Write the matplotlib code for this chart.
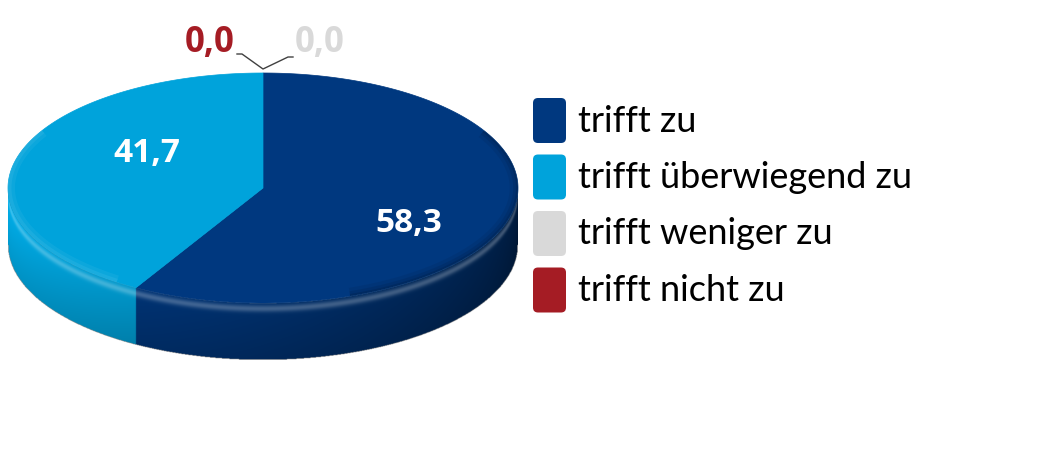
import numpy as np
import matplotlib.pyplot as plt
from matplotlib.patches import Polygon, FancyBboxPatch

# data
categories = ["trifft zu", "trifft überwiegend zu", "trifft weniger zu", "trifft nicht zu"]
values = [58.3, 41.7, 0.0, 0.0]
colors = ["#00387f", "#00a3db", "#d9d9d9", "#a51c24"]
value_labels = ["58,3", "41,7", "0,0", "0,0"]

FONT = "Lato"
NUM_FONT = "Open Sans"

# pie geometry in pixels (y grows downwards)
cx, cy = 263, 188
rx, ry = 255, 115
depth = 57


def rim(theta_deg):
    t = np.radians(theta_deg)
    return cx + rx * np.cos(t), cy - ry * np.sin(t)


def to_rgb(c):
    c = c.lstrip("#")
    return np.array([int(c[i:i + 2], 16) / 255 for i in (0, 2, 4)])


# slice spans: start at 12 o'clock, clockwise
spans = []
start = 90.0
for v in values:
    end = start - v * 3.6
    spans.append((start, end))
    start = end

fig = plt.figure(figsize=(10.4, 4.55), dpi=100)
ax = fig.add_axes([0, 0, 1, 1])
ax.set_xlim(0, 1040)
ax.set_ylim(455, 0)
ax.axis("off")

# side wall as a shaded image (front half of the cylinder)
x0, x1 = cx - rx, cx + rx
y0, y1 = cy, cy + ry + depth
scale = 2
xs = np.linspace(x0, x1, (x1 - x0) * scale)
ys = np.linspace(y0, y1, (y1 - y0) * scale)
X, Y = np.meshgrid(xs, ys)
u = np.clip((X - cx) / rx, -1, 1)
theta = -np.degrees(np.arccos(u))           # -180 (left) .. 0 (right)
yr = cy + ry * np.sqrt(1 - u ** 2)
t = (Y - yr) / depth
inside = (t >= 0) & (t <= 1)

img = np.zeros(X.shape + (4,))
for i, (a0, a1) in enumerate(spans):
    if values[i] == 0:
        continue
    d = (a0 - theta) % 360
    m = inside & (d <= a0 - a1)
    base = to_rgb(colors[i])
    frac = theta[m] / -180.0                 # 1 at left, 0 at right
    shade = 0.45 + 0.65 * frac ** 0.8
    tm = t[m]
    c = base[None, :] * (shade * (1.0 - 0.15 * tm))[:, None]
    bump = np.exp(-((tm - 0.1) / 0.06) ** 2)
    c = c + (1 - c) * (0.25 * bump)[:, None]
    img[m, :3] = np.clip(c, 0, 1)
    img[m, 3] = 1
ax.imshow(img, extent=(x0, x1, y1, y0), origin="upper", interpolation="bilinear", zorder=1)

# top face
top_clip = None
for i, (a0, a1) in enumerate(spans):
    if values[i] == 0:
        continue
    angs = np.linspace(a0, a1, 300)
    px, py = rim(angs)
    pts = [(cx, cy)] + list(zip(px, py))
    ax.add_patch(Polygon(pts, closed=True, facecolor=colors[i], edgecolor=colors[i],
                         lw=0.5, zorder=2))

ex, ey = rim(np.linspace(0, 360, 400))
top_clip = Polygon(list(zip(ex, ey)), closed=True, facecolor="none", edgecolor="none")
ax.add_patch(top_clip)

# darker bevel on the right part of the top rim, lighter on the left
for w, a in [(12, 0.06), (7, 0.08), (3, 0.1)]:
    angs = np.linspace(-70, 30, 200)
    px, py = rim(angs)
    ln, = ax.plot(px, py, color="black", lw=w, alpha=a, solid_capstyle="butt", zorder=3)
    ln.set_clip_path(top_clip)
for w, a in [(10, 0.05), (5, 0.06)]:
    angs = np.linspace(150, 235, 200)
    px, py = rim(angs)
    ln, = ax.plot(px, py, color="white", lw=w, alpha=a, solid_capstyle="butt", zorder=3)
    ln.set_clip_path(top_clip)

# value labels inside slices
ax.text(409, 224, value_labels[0], color="white", fontsize=24, fontweight="bold",
        family=NUM_FONT, ha="center", va="center", zorder=4)
ax.text(147, 154, value_labels[1], color="white", fontsize=24, fontweight="bold",
        family=NUM_FONT, ha="center", va="center", zorder=4)

# zero labels on top with leader lines
ax.text(210, 43, value_labels[3], color=colors[3], fontsize=25, fontweight="bold",
        family=NUM_FONT, ha="center", va="center")
ax.text(320, 43, value_labels[2], color=colors[2], fontsize=25, fontweight="bold",
        family=NUM_FONT, ha="center", va="center")
ax.plot([237, 242, 263, 288, 293], [54, 54, 69, 57, 57], color="#404040", lw=1)

# legend
for i, cat in enumerate(categories):
    yb = 98 + i * 56.5
    ax.add_patch(FancyBboxPatch((533, yb), 33, 45, boxstyle="round,pad=0,rounding_size=5",
                                facecolor=colors[i], edgecolor="none"))
    ax.text(578, yb + 23, cat, fontsize=26, family=FONT, color="black",
            ha="left", va="center")

fig.savefig("out.png", dpi=100)
